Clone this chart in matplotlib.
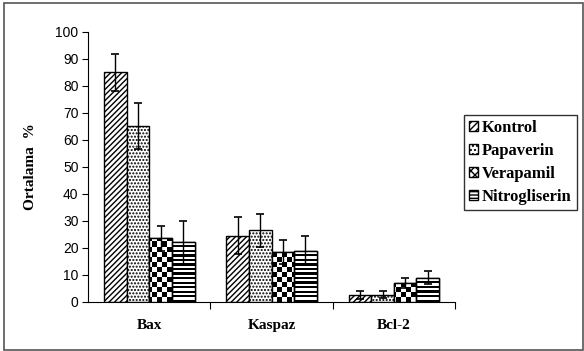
import numpy as np
import matplotlib
matplotlib.use("Agg")
from matplotlib import pyplot as plt
from matplotlib.patches import Patch, Rectangle

categories = ["Bax", "Kaspaz", "Bcl-2"]
groups = ["Kontrol", "Papaverin", "Verapamil", "Nitrogliserin"]

kontrol = [85.0, 24.5, 2.5]
papaverin = [65.0, 26.5, 2.7]
verapamil = [23.5, 18.5, 7.0]
nitrogliserin = [22.0, 19.0, 9.0]

kontrol_err = [7.0, 6.8, 1.5]
papaverin_err = [8.5, 6.0, 1.3]
verapamil_err = [4.5, 4.6, 2.0]
nitrogliserin_err = [8.0, 5.5, 2.3]

values = [kontrol, papaverin, verapamil, nitrogliserin]
errors = [kontrol_err, papaverin_err, verapamil_err, nitrogliserin_err]

plt.rcParams["hatch.linewidth"] = 1.0
serif = ["Liberation Serif", "DejaVu Serif"]
sans = ["Liberation Sans", "DejaVu Sans"]

fig = plt.figure(figsize=(5.84, 3.51), dpi=100)
fig.patch.set_facecolor("white")
ax = fig.add_axes([0.151, 0.140, 0.628, 0.769])

x = np.arange(len(categories))
width = 0.185
hatches = ["//////", ".....", None, None]

ax.set_xlim(-0.5, 2.5)
ax.set_ylim(0, 100)

bars = []
for i, (vals, errs) in enumerate(zip(values, errors)):
    pos = x + (i - 1.5) * width
    b = ax.bar(pos, vals, width, color="white", edgecolor="black",
               linewidth=1.0, hatch=hatches[i], zorder=2)
    ax.errorbar(pos, vals, yerr=errs, fmt="none", ecolor="black",
                elinewidth=1.0, capsize=3, capthick=1.2, zorder=5)
    bars.append(b)

# checkerboard for Verapamil, stripes for Nitrogliserin (images clipped to bars)
nx, ny = 74, 54
checker = (np.add.outer(np.arange(ny), np.arange(nx)) % 2).astype(float)
stripes = np.tile((np.arange(120) % 2)[:, None], (1, 10)).astype(float)
for pattern, barset in [(checker, bars[2]), (stripes, bars[3])]:
    for rect in barset:
        im = ax.imshow(pattern, cmap="gray_r", vmin=0, vmax=1,
                       extent=[-0.5, 2.5, 0, 100], aspect="auto",
                       interpolation="nearest", zorder=3)
        im.set_clip_path(rect)
        edge = Rectangle(rect.get_xy(), rect.get_width(), rect.get_height(),
                         fill=False, edgecolor="black", linewidth=1.0, zorder=4)
        ax.add_patch(edge)

ax.set_xlim(-0.5, 2.5)
ax.set_ylim(0, 100)

ax.spines["top"].set_visible(False)
ax.spines["right"].set_visible(False)
ax.spines["left"].set_linewidth(0.8)
ax.spines["bottom"].set_linewidth(0.8)

ax.set_yticks(range(0, 101, 10))
ax.tick_params(axis="y", direction="out", length=4, width=0.8, pad=3)
for lab in ax.get_yticklabels():
    lab.set_family(sans)
    lab.set_fontsize(10)

ax.set_xticks(x)
ax.set_xticklabels(categories, fontfamily=serif, fontweight="bold", fontsize=11)
ax.tick_params(axis="x", which="major", length=0, pad=12)
ax.set_xticks([0.5, 1.5, 2.5], minor=True)
ax.tick_params(axis="x", which="minor", direction="out", length=5, width=0.8)

ax.set_ylabel("Ortalama  %", fontfamily=serif, fontweight="bold", fontsize=11,
              labelpad=13)

handles = [
    Patch(facecolor="white", edgecolor="black", hatch="/////"),
    Patch(facecolor="white", edgecolor="black", hatch="...."),
    Patch(facecolor="white", edgecolor="black", hatch="xxxx"),
    Patch(facecolor="white", edgecolor="black", hatch="-----"),
]
leg = fig.legend(handles, groups, loc="upper left",
                 bbox_to_anchor=(0.794, 0.672),
                 prop={"family": serif, "weight": "bold", "size": 12},
                 frameon=True, fancybox=False, edgecolor="black",
                 handlelength=0.55, handleheight=0.55, handletextpad=0.25,
                 labelspacing=0.42, borderpad=0.3, borderaxespad=0)
leg.get_frame().set_linewidth(1.0)

# outer chart frame
fig.patches.append(Rectangle((0.007, 0.004), 0.991, 0.988, transform=fig.transFigure,
                             fill=False, edgecolor="#555555", linewidth=1.2))

fig.savefig("out.png", dpi=100, facecolor="white")
